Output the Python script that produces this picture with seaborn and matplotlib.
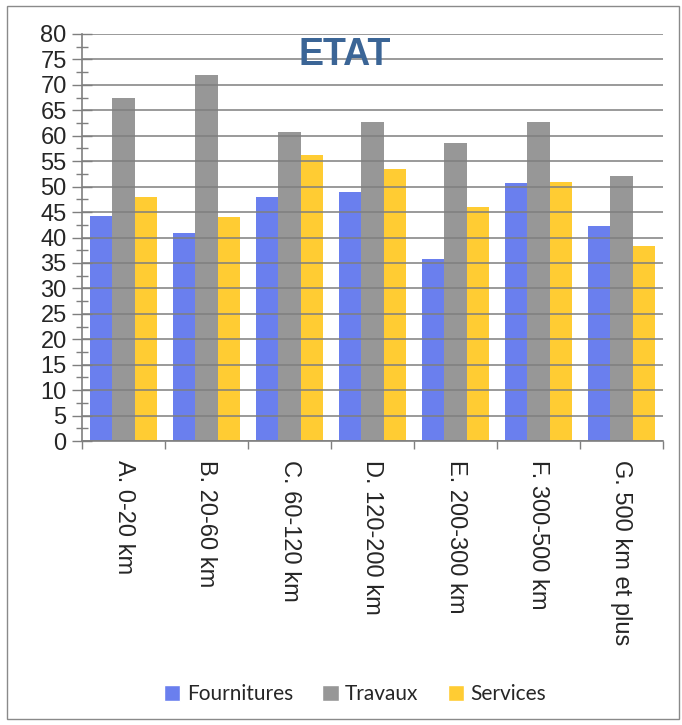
import matplotlib
matplotlib.use("Agg")
import matplotlib.pyplot as plt
import seaborn as sns
import pandas as pd
from matplotlib.patches import Rectangle, Patch
from matplotlib.ticker import MultipleLocator, FixedLocator

categories = ["A. 0-20 km", "B. 20-60 km", "C. 60-120 km", "D. 120-200 km",
              "E. 200-300 km", "F. 300-500 km", "G. 500 km et plus"]
series = ["Fournitures", "Travaux", "Services"]
fournitures = [44.2, 40.9, 48.0, 48.9, 35.8, 50.7, 42.3]
travaux = [67.4, 71.9, 60.7, 62.7, 58.6, 62.7, 52.1]
services = [48.0, 44.0, 56.2, 53.5, 46.0, 50.9, 38.3]
colors = ["#6A7FEE", "#979797", "#FFCC33"]
yticks = list(range(0, 85, 5))

df = pd.DataFrame({
    "cat": categories * 3,
    "serie": [series[0]] * 7 + [series[1]] * 7 + [series[2]] * 7,
    "val": fournitures + travaux + services,
})

sns.set_theme(style="white")
plt.rcParams['font.family'] = ['Liberation Sans', 'DejaVu Sans']

fig = plt.figure(figsize=(6.82, 7.25), dpi=100)
ax = fig.add_axes([82/682, 1-441/725, (663-82)/682, (441-34)/725])
sns.barplot(data=df, x="cat", y="val", hue="serie", hue_order=series,
            order=categories, palette=colors, width=0.8, saturation=1,
            linewidth=0, ax=ax, legend=False, zorder=1)

ax.set_xlim(-0.5, 6.5)
ax.set_ylim(0, 80)
ax.set_xlabel("")
ax.set_ylabel("")
ax.set_axisbelow(False)
ax.yaxis.grid(True, color="#7f7f7f", lw=1.3, alpha=0.85)
ax.xaxis.grid(False)

ax.set_yticks(yticks)
ax.yaxis.set_minor_locator(MultipleLocator(2.5))
ax.tick_params(axis="y", which="major", direction="inout", length=14, width=1,
               color="#7f7f7f", labelsize=17, pad=4, left=True)
ax.tick_params(axis="y", which="minor", direction="inout", length=8, width=1,
               color="#7f7f7f", left=True)

ax.set_xticks(range(len(categories)))
ax.set_xticklabels(categories, rotation=270, ha="center", va="top", fontsize=17)
ax.xaxis.set_minor_locator(FixedLocator([i - 0.5 for i in range(len(categories) + 1)]))
ax.tick_params(axis="x", which="major", length=0, pad=14)
ax.tick_params(axis="x", which="minor", direction="out", length=6, width=1,
               color="#7f7f7f", bottom=True)

for s in ["top", "right"]:
    ax.spines[s].set_visible(False)
for s in ["left", "bottom"]:
    ax.spines[s].set_color("#7f7f7f")
    ax.spines[s].set_linewidth(1.2)

fig.text(345/682, 1-55/725, "ETAT", ha="center", va="center", fontsize=27,
         fontweight="bold", color="#3B6596")

handles = [Patch(facecolor=c, label=s) for c, s in zip(colors, series)]
fig.legend(handles=handles, loc="center", bbox_to_anchor=(355/682, 1-694/725),
           ncol=3, frameon=False, handlelength=0.8, handleheight=0.8,
           columnspacing=1.4, handletextpad=0.3,
           prop={"family": "Lato", "size": 15})

fig.patches.append(Rectangle((7/682, 6/725), (679-7)/682, (719-6)/725,
                             transform=fig.transFigure, fill=False,
                             edgecolor="#8a8a8a", lw=1))

fig.savefig("out.png", dpi=100)
